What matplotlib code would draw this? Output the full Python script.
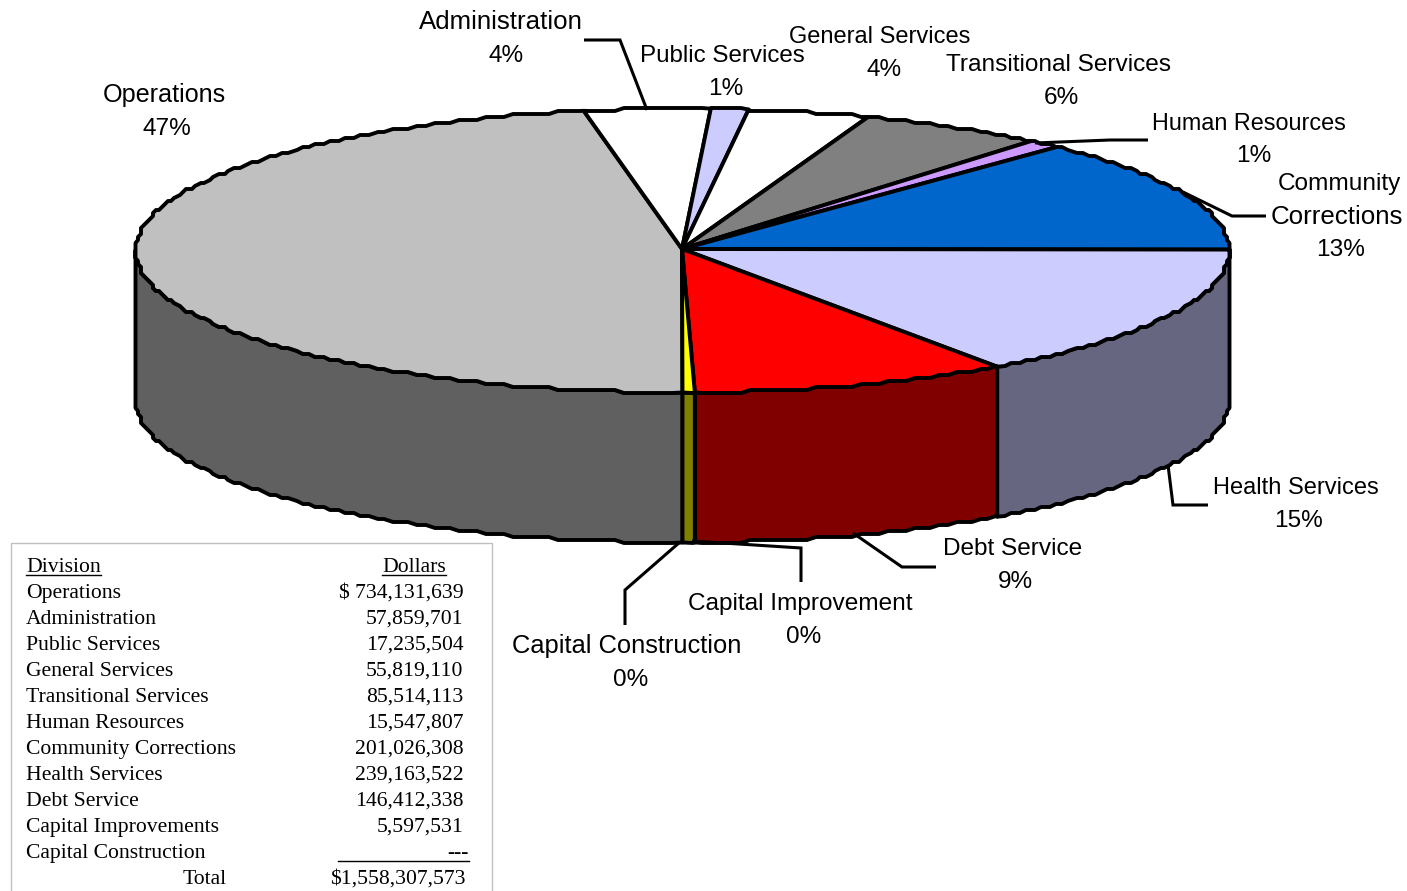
import numpy as np
import matplotlib
matplotlib.use("Agg")
import matplotlib.pyplot as plt
from matplotlib.patches import Polygon, Rectangle

# Budget by division, in dollars
divisions = ["Operations", "Administration", "Public Services", "General Services",
             "Transitional Services", "Human Resources", "Community Corrections",
             "Health Services", "Debt Service", "Capital Improvements", "Capital Construction"]
dollars = [734131639, 57859701, 17235504, 55819110, 85514113, 15547807,
           201026308, 239163522, 146412338, 5597531, 0]
dollar_labels = ["$ 734,131,639", "57,859,701", "17,235,504", "55,819,110", "85,514,113",
                 "15,547,807", "201,026,308", "239,163,522", "146,412,338", "5,597,531", "---"]
total_label = "$1,558,307,573"
percent_labels = ["47%", "4%", "1%", "4%", "6%", "1%", "13%", "15%", "9%", "0%", "0%"]

top_colors = ["#C0C0C0", "#FFFFFF", "#CCCCFF", "#FFFFFF", "#808080", "#CC99FF",
              "#0066CC", "#CCCCFF", "#FF0000", "#FFFF00", "#FFFFFF"]
side_colors = ["#606060", "#808080", "#666680", "#808080", "#404040", "#664C80",
               "#003366", "#666680", "#800000", "#808000", "#808080"]

# Pie geometry in pixel space
CX, CY, RX, RY, DEPTH = 682.5, 250.5, 547, 142, 150
STEP_DEG, SNAP = 1.0, 3.0
EDGE = 2.8

W, H = 1407, 891
fig = plt.figure(figsize=(W / 100, H / 100), dpi=100, facecolor="white")
ax = fig.add_axes([0, 0, 1, 1])
ax.set_xlim(0, W)
ax.set_ylim(H, 0)
ax.axis("off")


def rim_point(theta):
    # Angles run clockwise from straight down
    t = np.radians(theta)
    return CX - RX * np.sin(t), CY + RY * np.cos(t)


def rim(start, end):
    # Rim vertices are snapped to a coarse grid, which gives the stepped outline
    inner = np.arange(np.ceil(start / STEP_DEG), np.floor(end / STEP_DEG) + 1) * STEP_DEG
    inner = inner[(inner > start) & (inner < end)]
    pts = [rim_point(start)]
    for a in inner:
        x, y = rim_point(a)
        x = np.clip(np.round(x / SNAP) * SNAP, CX - RX, CX + RX)
        pts.append((x, np.round(y / SNAP) * SNAP))
    pts.append(rim_point(end))
    return pts


values = np.array(dollars, dtype=float)
edges = np.concatenate([[0], np.cumsum(values) / values.sum() * 360])

# Outer wall: only the front half of the rim is visible
for i, val in enumerate(values):
    if val == 0:
        continue
    ranges = [(max(edges[i], 0), min(edges[i + 1], 90)),
              (max(edges[i], 270), min(edges[i + 1], 360))]
    for a, b in ranges:
        if b <= a:
            continue
        arc = rim(a, b)
        lower = [(x, y + DEPTH) for x, y in reversed(arc)]
        ax.add_patch(Polygon(arc + lower, closed=True, facecolor=side_colors[i],
                             edgecolor="black", linewidth=EDGE, joinstyle="round"))

# Top face
for i, val in enumerate(values):
    if val == 0:
        continue
    pts = [(CX - 0.5, CY - 1.5)] + rim(edges[i], edges[i + 1])
    ax.add_patch(Polygon(pts, closed=True, facecolor=top_colors[i],
                         edgecolor="black", linewidth=EDGE, joinstyle="round"))

# Leader lines
leaders = [
    [(584, 40), (620, 40), (647, 110)],
    [(1035, 143), (1110, 140), (1148, 140)],
    [(1183, 192), (1232, 216), (1266, 216)],
    [(1168, 465), (1173, 505), (1208, 505)],
    [(853, 533), (902, 567), (936, 567)],
    [(692, 541), (801, 548), (801, 582)],
    [(680, 542), (625, 590), (625, 625)],
]
for line in leaders:
    xs, ys = zip(*line)
    ax.plot(xs, ys, color="black", linewidth=2.2, solid_joinstyle="miter", solid_capstyle="butt")

# Slice labels: name, name centre, percent centre, name size
label_font = dict(family="Liberation Sans", color="black", ha="center", va="center")
slice_labels = [
    ("Operations", 164, 95, 167, 129, 18.1),
    ("Administration", 501, 22, 506, 56, 18.6),
    ("Public Services", 722, 56, 726, 89, 17.4),
    ("General Services", 880, 37, 884, 70, 17.0),
    ("Transitional Services", 1058, 65, 1061, 98, 17.6),
    ("Human Resources", 1249, 123, 1254, 156, 16.8),
    ("Corrections", 1337, 217, 1341, 250, 18.6),
    ("Health Services", 1296, 488, 1299, 521, 17.0),
    ("Debt Service", 1013, 549, 1015, 582, 17.6),
    ("Capital Improvement", 800, 604, 804, 637, 17.6),
    ("Capital Construction", 627, 646, 631, 680, 18.4),
]
for (name, nx, ny, px, py, size), pct in zip(slice_labels, percent_labels):
    ax.text(nx, ny, name, fontsize=size, **label_font)
    ax.text(px, py, pct, fontsize=17.6, **label_font)
ax.text(1339, 184, "Community", fontsize=17.6, **label_font)

# Summary table
ax.add_patch(Rectangle((10.5, 543), 481, 360, facecolor="white", edgecolor="#C0C0C0",
                       linewidth=1, clip_on=True))
tbl = dict(family="Liberation Serif", fontsize=15.55, color="black", va="center")
ax.text(26, 567.5, "Division", ha="left", **tbl)
ax.text(414, 567.5, "Dollars", ha="center", **tbl)
ax.plot([26, 101], [574.5, 574.5], color="black", linewidth=1)
ax.plot([382, 446], [574.5, 574.5], color="black", linewidth=1)
for row, (name, amount) in enumerate(zip(divisions, dollar_labels)):
    y = 593.5 + row * 26
    ax.text(26, y, name, ha="left", **tbl)
    ax.text(469 if amount == "---" else 463.5, y, amount, ha="right", **tbl)
ax.plot([338, 469], [860.5, 860.5], color="black", linewidth=1)
ax.text(183, 879.5, "Total", ha="left", **tbl)
ax.text(466, 879.5, total_label, ha="right", **tbl)

fig.savefig("out.png", dpi=100, facecolor="white")
